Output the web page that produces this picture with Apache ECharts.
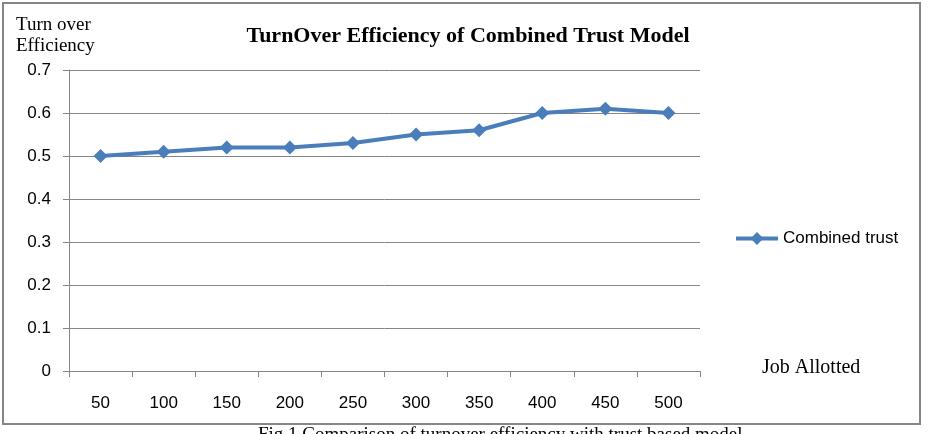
<!DOCTYPE html>
<html>
<head>
<meta charset="utf-8">
<script src="https://cdn.jsdelivr.net/npm/echarts@6/dist/echarts.min.js"></script>
<style>
  html, body { margin: 0; padding: 0; background: #fff; }
  #main { width: 928px; height: 434px; }
</style>
</head>
<body>
<div id="main"></div>
<script>
// data
var jobs = ["50", "100", "150", "200", "250", "300", "350", "400", "450", "500"];
var combinedTrust = [0.50, 0.51, 0.52, 0.52, 0.53, 0.55, 0.56, 0.60, 0.61, 0.60];
var seriesName = "Combined trust";

var chart = echarts.init(document.getElementById("main"));
var serif = "'Liberation Serif', 'DejaVu Serif', serif";
var sans = "'Liberation Sans', Arial, sans-serif";

var option = {
  backgroundColor: "#fff",
  animation: false,
  title: {
    text: "TurnOver Efficiency of Combined Trust Model",
    left: 463,
    textAlign: "center",
    top: 20,
    textStyle: { fontFamily: serif, fontWeight: "bold", fontSize: 22, color: "#000" }
  },
  legend: {
    data: [seriesName],
    left: 729,
    top: 225,
    itemWidth: 42,
    itemHeight: 16,
    itemGap: 4,
    lineStyle: { width: 4 },
    textStyle: { fontFamily: sans, fontSize: 17, color: "#000" }
  },
  grid: { left: 69, right: 228, top: 70, bottom: 63 },
  xAxis: {
    type: "category",
    data: jobs,
    boundaryGap: true,
    axisLine: { lineStyle: { color: "#868686", width: 1 } },
    axisTick: { show: true, length: 6, alignWithLabel: false, lineStyle: { color: "#868686" } },
    axisLabel: { margin: 24, fontFamily: sans, fontSize: 17, color: "#000" },
    splitLine: { show: false }
  },
  yAxis: {
    type: "value",
    min: 0,
    max: 0.7,
    interval: 0.1,
    axisLine: { show: true, lineStyle: { color: "#868686", width: 1 } },
    axisTick: { show: true, length: 6, lineStyle: { color: "#868686" } },
    axisLabel: {
      margin: 18,
      fontFamily: sans,
      fontSize: 17,
      color: "#000",
      formatter: function (v) { return v === 0 ? "0" : v.toFixed(1); }
    },
    splitLine: { show: true, lineStyle: { color: "#868686", width: 1 } }
  },
  series: [
    {
      name: seriesName,
      type: "line",
      data: combinedTrust,
      symbol: "diamond",
      symbolSize: 14,
      itemStyle: { color: "#4a7ebb" },
      lineStyle: { color: "#4a7ebb", width: 4 }
    }
  ],
  graphic: [
    {
      type: "rect",
      shape: { x: 3, y: 3, width: 917, height: 421 },
      style: { fill: null, stroke: "#868686", lineWidth: 2 },
      z: -1
    },
    {
      type: "text",
      left: 16,
      top: 15,
      style: { text: "Turn over\nEfficiency", font: "19px " + serif, fill: "#000", lineHeight: 21 }
    },
    {
      type: "text",
      left: 762,
      top: 358,
      style: { text: "Job Allotted", font: "20px " + serif, fill: "#000" }
    },
    {
      type: "text",
      left: 258,
      top: 426,
      style: { text: "Fig 1 Comparison of turnover efficiency with trust based model", font: "19px " + serif, fill: "#000" }
    }
  ]
};

chart.setOption(option);
</script>
</body>
</html>
